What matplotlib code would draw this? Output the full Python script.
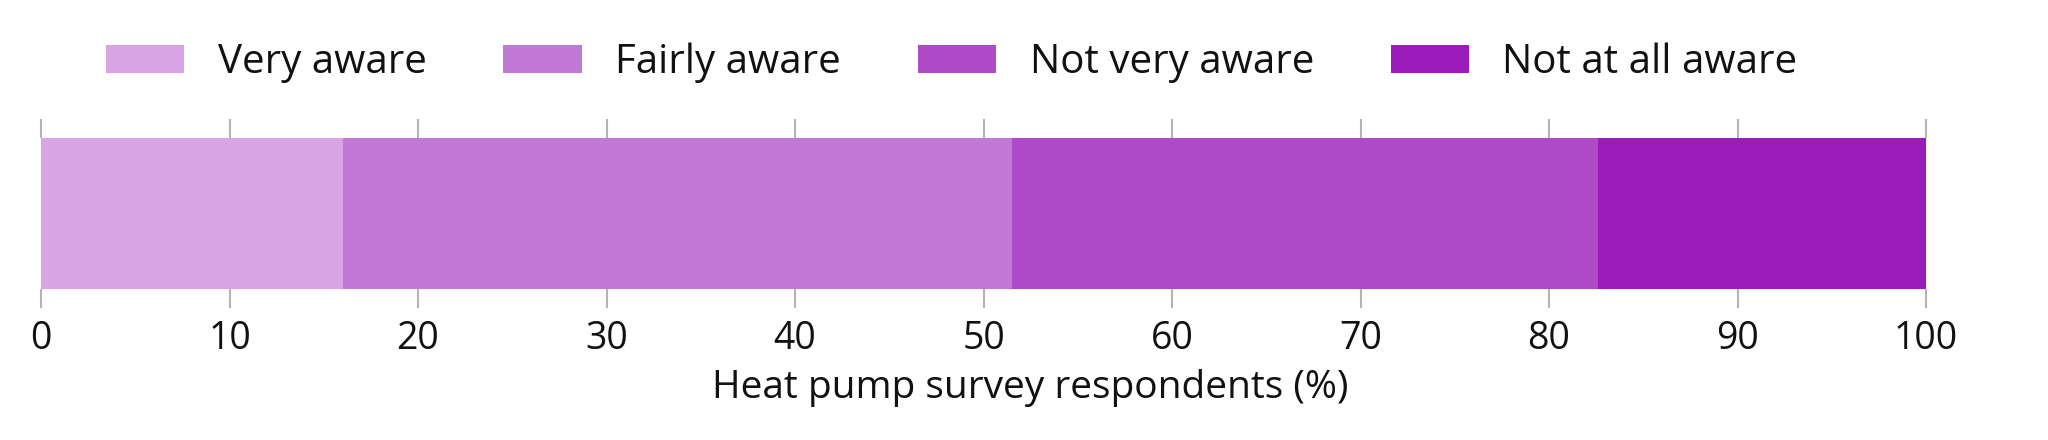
import matplotlib
matplotlib.use("Agg")
import matplotlib.pyplot as plt

categories = ["Very aware", "Fairly aware", "Not very aware", "Not at all aware"]
values = [16.0, 35.5, 31.1, 17.4]
colors = ["#D8A4E4", "#C178D6", "#AF4BC9", "#9A1DBB"]
xticks = [0, 10, 20, 30, 40, 50, 60, 70, 80, 90, 100]
xlabel = "Heat pump survey respondents (%)"

plt.rcParams['font.family'] = ['Open Sans', 'DejaVu Sans']

fig = plt.figure(figsize=(20.48, 4.4), dpi=100)
ax = fig.add_axes([41/2048, 1-289/440, (1926-41)/2048, (289-137.7)/440])

left = 0
handles = []
for cat, v, c in zip(categories, values, colors):
    h = ax.barh(0, v, left=left, height=1, color=c, label=cat, linewidth=0)
    handles.append(h)
    left += v

ax.set_xlim(0, 100)
ax.set_ylim(-0.5, 0.5)
ax.set_yticks([])
for s in ax.spines.values():
    s.set_visible(False)
ax.set_xticks(xticks)
ax.set_xticklabels([str(t) for t in xticks])
ax.tick_params(axis='x', top=True, bottom=True, labeltop=False, direction='out',
               length=13.5, width=1.5, color='#b3b3b3', labelsize=27, pad=9,
               labelcolor='#111111')
ax.set_xlabel(xlabel, fontsize=28, labelpad=8, color='#111111',
              x=0.525, ha='center')

leg = fig.legend(handles=handles, labels=categories, loc='center left',
                 bbox_to_anchor=(106/2048, 1-63/440), ncol=4, frameon=False,
                 fontsize=29, handlelength=1.94, handleheight=0.7,
                 handletextpad=0.84, columnspacing=1.9, borderpad=0,
                 borderaxespad=0)
for t in leg.get_texts():
    t.set_color('#111111')

fig.savefig("out.png", dpi=100)
